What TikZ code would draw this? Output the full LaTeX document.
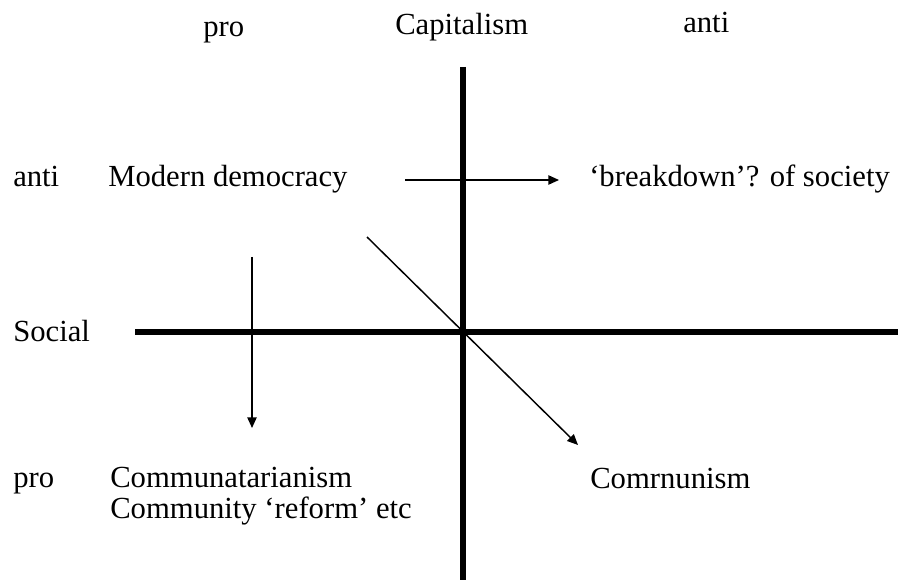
\documentclass[tikz,border=0pt]{standalone}
\usepackage{fontspec}
\setmainfont{Liberation Serif}
\usetikzlibrary{arrows.meta}

\begin{document}
\begin{tikzpicture}[
    x=0.75pt, y=-0.75pt,
    lbl/.style={anchor=base west, inner sep=0pt, font=\fontsize{23}{28}\selectfont},
    axis/.style={line width=4pt},
    move/.style={-{Triangle[length=8pt,width=7pt]}, line width=1.1pt}
]
\useasboundingbox (0,0) rectangle (898,580);
% axes
\coordinate (captop) at (463,67);
\coordinate (capbot) at (463,580);
\coordinate (socleft) at (135,332);
\coordinate (socright) at (898,332);
\draw[axis] (captop) -- (capbot);
\draw[axis] (socleft) -- (socright);
% headings
\node[lbl] (protop) at (203,37) {pro};
\node[lbl] (capital) at (395,35) {Capitalism};
\node[lbl] (antitop) at (683,33) {anti};
\node[lbl] (antileft) at (13,187) {anti};
\node[lbl] (social) at (13,342) {Social};
\node[lbl] (proleft) at (13,487) {pro};
% positions
\node[lbl] (moddem) at (108,187) {Modern democracy};
\node[lbl] (breakdown) at (589,187) {‘breakdown’? of society};
\node[lbl] (communa) at (110,487) {Communatarianism};
\node[lbl] (reform) at (110,518) {Community ‘reform’ etc};
\node[lbl] (communism) at (590,488) {Comrnunism};
% shifts
\coordinate (hstart) at (405,180);
\coordinate (hend) at (559,180);
\coordinate (vstart) at (252,257);
\coordinate (vend) at (252,428);
\coordinate (dstart) at (367,237);
\coordinate (dend) at (578,445);
\draw[move] (hstart) -- (hend);
\draw[move] (vstart) -- (vend);
\draw[move] (dstart) -- (dend);
\end{tikzpicture}
\end{document}
